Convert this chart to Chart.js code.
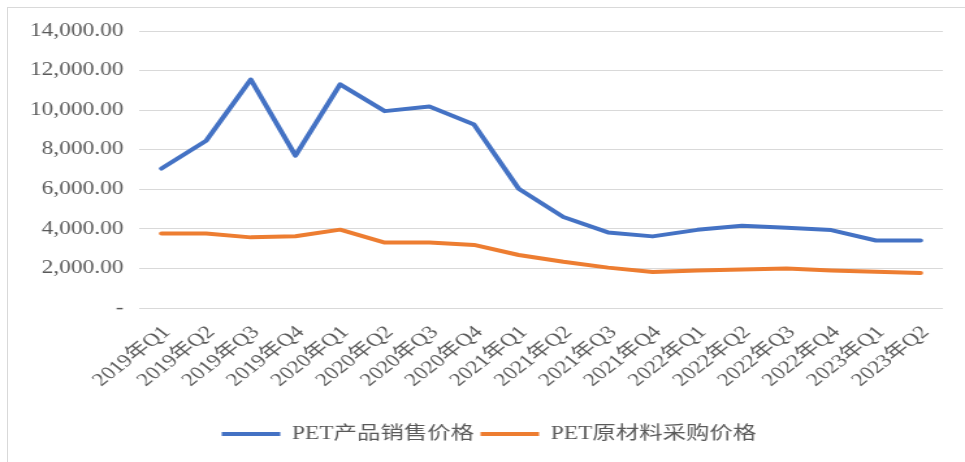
<!DOCTYPE html>
<html><head><meta charset="utf-8">
<script src="https://cdn.jsdelivr.net/npm/chart.js@4/dist/chart.umd.min.js"></script>
<style>
html,body{margin:0;padding:0;background:#fff;overflow:hidden;width:965px;height:462px}
#frame{position:absolute;left:7px;top:7px;width:975px;height:475px;border:1px solid #d9d9d9;box-sizing:border-box}
#wrap{position:absolute;left:0;top:0;width:742px;height:462px;transform:scaleX(1.3005);transform-origin:0 0}
canvas{display:block}
</style></head><body>
<div id="frame"></div>
<div id="wrap"><canvas id="c" width="742" height="462" style="width:742px;height:462px"></canvas></div>
<script>
const categories = ["2019年Q1","2019年Q2","2019年Q3","2019年Q4","2020年Q1","2020年Q2","2020年Q3","2020年Q4","2021年Q1","2021年Q2","2021年Q3","2021年Q4","2022年Q1","2022年Q2","2022年Q3","2022年Q4","2023年Q1","2023年Q2"];
const salesPrice = [7050, 8450, 11550, 7700, 11300, 9950, 10180, 9270, 6030, 4600, 3820, 3620, 3950, 4160, 4060, 3940, 3410, 3410];
const materialPrice = [3770, 3770, 3570, 3630, 3960, 3310, 3310, 3190, 2680, 2340, 2040, 1820, 1900, 1950, 2000, 1900, 1830, 1770];
const seriesNames = ["PET产品销售价格", "PET原材料采购价格"];
const yTicks = [0, 2000, 4000, 6000, 8000, 10000, 12000, 14000];

const FONT = "'Liberation Serif', 'Times New Roman', 'Noto Sans CJK SC', serif";
const TXT = '#595959';

const shiftLegend = {
  id: 'shiftLegend',
  afterLayout(chart) {
    if (chart.legend) { chart.legend.left += 4.5; chart.legend.right += 4.5; }
  }
};

function draw() {
  new Chart(document.getElementById('c'), {
    type: 'line',
    data: {
      labels: categories,
      datasets: [
        {label: seriesNames[0], data: salesPrice, borderColor: '#4472C4', backgroundColor: '#4472C4',
         borderWidth: 4, pointRadius: 0, tension: 0, borderCapStyle: 'round', borderJoinStyle: 'round'},
        {label: seriesNames[1], data: materialPrice, borderColor: '#ED7D31', backgroundColor: '#ED7D31',
         borderWidth: 4, pointRadius: 0, tension: 0, borderCapStyle: 'round', borderJoinStyle: 'round'}
      ]
    },
    plugins: [shiftLegend],
    options: {
      responsive: false,
      animation: false,
      devicePixelRatio: 1,
      layout: {padding: {top: 31, left: 18, right: 17, bottom: 9}},
      plugins: {
        tooltip: {enabled: false},
        legend: {
          position: 'bottom',
          labels: {
            usePointStyle: true, pointStyle: 'line', pointStyleWidth: 45, boxHeight: 18,
            padding: 5, color: TXT, font: {family: FONT, size: 18}
          }
        }
      },
      scales: {
        x: {
          offset: true,
          grid: {display: false},
          border: {display: false},
          ticks: {autoSkip: false, maxRotation: 45, minRotation: 45, padding: 6, labelOffset: 4, color: TXT,
                  font: {family: FONT, size: 18}},
          afterFit: s => { s.height = 112; }
        },
        y: {
          min: 0, max: 14000,
          afterBuildTicks: s => { s.ticks = yTicks.map(v => ({value: v})); },
          grid: {color: '#d9d9d9', lineWidth: 1, drawTicks: false},
          border: {display: false},
          ticks: {padding: 12, color: TXT, font: {family: FONT, size: 18},
                  callback: v => v === 0 ? '-' : v.toLocaleString('en-US', {minimumFractionDigits: 2, maximumFractionDigits: 2})},
          afterFit: s => { s.width = 89; }
        }
      }
    }
  });
}
Promise.all([
  document.fonts.load("18px 'Liberation Serif'"),
  document.fonts.load("18px 'Noto Sans CJK SC'", "产品")
]).then(draw, draw);
</script>
</body></html>
